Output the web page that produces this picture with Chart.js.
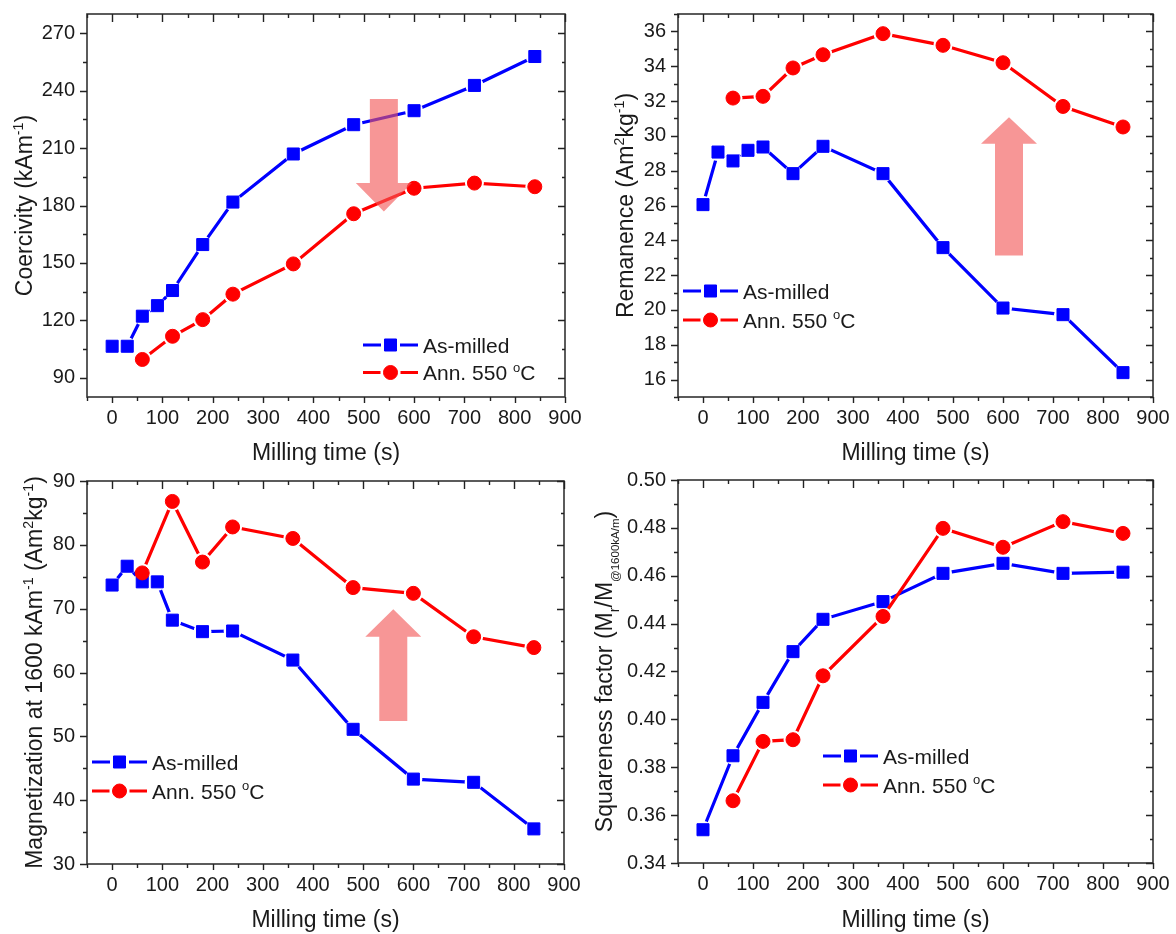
<!DOCTYPE html>
<html>
<head>
<meta charset="utf-8">
<script src="https://cdn.jsdelivr.net/npm/chart.js@4.4.1/dist/chart.umd.min.js"></script>
<style>
  body { margin: 0; background: #fff; }
  #wrap { position: relative; width: 1176px; height: 934px; }
  canvas { position: absolute; }
</style>
</head>
<body>
<div id="wrap">
  <canvas id="c1" width="588" height="467" style="left:0px;top:0px"></canvas>
  <canvas id="c2" width="588" height="467" style="left:588px;top:0px"></canvas>
  <canvas id="c3" width="588" height="467" style="left:0px;top:467px"></canvas>
  <canvas id="c4" width="588" height="467" style="left:588px;top:467px"></canvas>
</div>
<script>
// milling times (s)
const timeAsMilled = [0, 30, 60, 90, 120, 180, 240, 360, 480, 600, 720, 840];
const timeAsMilledSq = [0, 60, 120, 180, 240, 360, 480, 600, 720, 840];
const timeAnnealed = [60, 120, 180, 240, 360, 480, 600, 720, 840];

// coercivity (kA/m)
const coerAsMilled = [106.5, 106.5, 122.2, 127.7, 135.6, 159.6, 181.8, 206.9, 222.2, 229.5, 242.7, 257.8];
const coerAnnealed = [99.6, 111.7, 120.4, 133.7, 149.5, 175.7, 189.0, 191.7, 189.8];
// remanence (Am2/kg)
const remAsMilled = [26.05, 29.07, 28.56, 29.17, 29.36, 27.83, 29.4, 27.83, 23.58, 20.11, 19.73, 16.4];
const remAnnealed = [32.17, 32.27, 33.9, 34.66, 35.87, 35.2, 34.2, 31.69, 30.51];
// magnetization at 1600 kA/m (Am2/kg)
const magAsMilled = [73.7, 76.65, 74.2, 74.2, 68.2, 66.4, 66.5, 61.95, 51.1, 43.3, 42.8, 35.5];
const magAnnealed = [75.6, 86.8, 77.3, 82.8, 81.0, 73.3, 72.4, 65.6, 63.9];
// squareness factor
const sqAsMilled = [0.3539, 0.3848, 0.4071, 0.4283, 0.4418, 0.4492, 0.461, 0.4652, 0.461, 0.4615];
const sqAnnealed = [0.366, 0.3908, 0.3915, 0.4182, 0.443, 0.4798, 0.4719, 0.4826, 0.4777];

// tick labels
const xTicks = [0, 100, 200, 300, 400, 500, 600, 700, 800, 900];
const coerTicks = [90, 120, 150, 180, 210, 240, 270];
const remTicks = [16, 18, 20, 22, 24, 26, 28, 30, 32, 34, 36];
const magTicks = [30, 40, 50, 60, 70, 80, 90];
const sqTicks = [0.34, 0.36, 0.38, 0.40, 0.42, 0.44, 0.46, 0.48, 0.50];

const seriesNames = ['As-milled', 'Ann. 550 oC'];
const xTitle = 'Milling time (s)';

const BLUE = '#0000ff';
const RED = '#ff0000';
const INK = '#1a1a1a';
const FONT = '"Liberation Sans", Arial, "DejaVu Sans", sans-serif';

function zip(xs, ys) {
  return xs.map((x, i) => ({ x: x, y: ys[i] }));
}

function partFont(p, size) {
  let s = size;
  if (p.sup) s = size * 0.62;
  if (p.sub) s = size * (p.small ? 0.5 : 0.62);
  return s.toFixed(1) + 'px ' + FONT;
}

// text with superscripts / subscripts, drawn centred (or left aligned)
function drawRich(ctx, parts, x, y, size, rotate, alignLeft) {
  ctx.save();
  ctx.translate(x, y);
  if (rotate) ctx.rotate(-Math.PI / 2);
  let total = 0;
  parts.forEach(p => {
    ctx.font = partFont(p, size);
    p.w = ctx.measureText(p.t).width;
    total += p.w;
  });
  let cx = alignLeft ? 0 : -total / 2;
  ctx.fillStyle = INK;
  ctx.textAlign = 'left';
  ctx.textBaseline = 'alphabetic';
  parts.forEach(p => {
    ctx.font = partFont(p, size);
    let dy = 0;
    if (p.sup) dy = -size * 0.4;
    if (p.sub) dy = size * 0.28;
    ctx.fillText(p.t, cx, dy + size * 0.36);
    cx += p.w;
  });
  ctx.restore();
}

function legendParts(name) {
  if (name.endsWith('oC')) {
    return [{ t: name.slice(0, -2) }, { t: 'o', sup: true }, { t: 'C' }];
  }
  return [{ t: name }];
}

// Origin-style gap between line and its own symbols
const gapPlugin = {
  id: 'gaps',
  beforeDatasetDraw(chart, args) {
    const ds = chart.data.datasets[args.index];
    if (!ds.gapRadius) return;
    const ctx = chart.ctx;
    ctx.save();
    args.meta.data.forEach(pt => {
      ctx.beginPath();
      ctx.rect(0, 0, chart.width, chart.height);
      ctx.moveTo(pt.x + ds.gapRadius, pt.y);
      ctx.arc(pt.x, pt.y, ds.gapRadius, 0, Math.PI * 2);
      ctx.clip('evenodd');
    });
  },
  afterDatasetDraw(chart, args) {
    const ds = chart.data.datasets[args.index];
    if (ds.gapRadius) chart.ctx.restore();
  }
};

// frame with ticks on all four sides
const framePlugin = {
  id: 'frame',
  afterDraw(chart, args, opts) {
    const ctx = chart.ctx;
    const a = chart.chartArea;
    const xs = chart.scales.x, ys = chart.scales.y;
    ctx.save();
    ctx.strokeStyle = '#333';
    ctx.lineWidth = 1.6;
    ctx.strokeRect(a.left, a.top, a.right - a.left, a.bottom - a.top);
    ctx.lineWidth = 1.4;
    ctx.strokeStyle = '#222';
    ctx.beginPath();
    const yStep = opts.yTicks[1] - opts.yTicks[0];
    for (let v = opts.yTicks[0] - yStep / 2; v <= ys.max + 1e-9; v += yStep / 2) {
      if (v < ys.min - 1e-9) continue;
      const major = opts.yTicks.some(t => Math.abs(t - v) < yStep / 100);
      const py = Math.round(ys.getPixelForValue(v)) + 0.5;
      ctx.moveTo(a.left, py); ctx.lineTo(a.left - (major ? 7 : 4), py);
      ctx.moveTo(a.right, py); ctx.lineTo(a.right - (major ? 7 : 3), py);
    }
    for (let v = -50; v <= 900; v += 50) {
      const major = v % 100 === 0;
      const px = Math.round(xs.getPixelForValue(v)) + 0.5;
      ctx.moveTo(px, a.bottom); ctx.lineTo(px, a.bottom + (major ? 6 : 4));
      ctx.moveTo(px, a.top); ctx.lineTo(px, a.top + (major ? 8 : 4));
    }
    ctx.stroke();
    ctx.restore();

    // y-axis title
    drawRich(ctx, opts.yTitle, opts.yTitleX, (a.top + a.bottom) / 2, 23, true, false);
  }
};

// shaded arrow + in-plot legend
const notesPlugin = {
  id: 'notes',
  afterDatasetsDraw(chart, args, opts) {
    const ctx = chart.ctx;
    const xs = chart.scales.x, ys = chart.scales.y;
    const ar = opts.arrow;
    if (ar) {
      const cx = xs.getPixelForValue(ar.x);
      const tail = ys.getPixelForValue(ar.tail);
      const base = ys.getPixelForValue(ar.base);
      const tip = ys.getPixelForValue(ar.tip);
      ctx.save();
      ctx.fillStyle = 'rgba(242, 86, 86, 0.62)';
      ctx.beginPath();
      ctx.moveTo(cx - 14, tail);
      ctx.lineTo(cx + 14, tail);
      ctx.lineTo(cx + 14, base);
      ctx.lineTo(cx + 28, base);
      ctx.lineTo(cx, tip);
      ctx.lineTo(cx - 28, base);
      ctx.lineTo(cx - 14, base);
      ctx.closePath();
      ctx.fill();
      ctx.restore();
    }

    const lg = opts.legend;
    const keys = chart.data.datasets.filter(ds => ds.showLine === false);
    keys.sort((a, b) => b.order - a.order);
    keys.forEach((ds, i) => {
      const ly = lg.y + i * lg.gap;
      const mx = lg.x + 27.5;
      const g = ds.pointStyle === 'circle' ? 10 : 9.5;
      ctx.save();
      ctx.strokeStyle = ds.borderColor;
      ctx.lineWidth = 3.2;
      ctx.beginPath();
      ctx.moveTo(lg.x, ly); ctx.lineTo(mx - g, ly);
      ctx.moveTo(mx + g, ly); ctx.lineTo(lg.x + 55, ly);
      ctx.stroke();
      ctx.fillStyle = ds.backgroundColor;
      ctx.lineWidth = 1;
      ctx.beginPath();
      if (ds.pointStyle === 'circle') {
        ctx.arc(mx, ly, ds.pointRadius, 0, Math.PI * 2);
      } else {
        const h = ds.pointRadius * Math.SQRT1_2;
        ctx.rect(mx - h, ly - h, 2 * h, 2 * h);
      }
      ctx.fill();
      ctx.stroke();
      ctx.restore();
      drawRich(ctx, legendParts(ds.label), lg.x + 60, ly, 21, false, true);
    });
  }
};

function series(label, points, color, style, radius, gap, order) {
  return [{
    label: label, data: points, borderColor: color, backgroundColor: color,
    borderWidth: 3.2, pointRadius: 0, gapRadius: gap, order: order + 1
  }, {
    label: label, data: points, borderColor: color, backgroundColor: color,
    showLine: false, pointStyle: style, pointRadius: radius, pointBorderWidth: 1,
    pointBackgroundColor: color, pointBorderColor: color, order: order
  }];
}

function makeChart(id, p) {
  return new Chart(document.getElementById(id), {
    type: 'line',
    data: {
      datasets: [
        ...series(seriesNames[0], zip(p.asX, p.asY), BLUE, 'rect', 8.5, 9, 2),
        ...series(seriesNames[1], zip(timeAnnealed, p.annY), RED, 'circle', 7, 9.5, 0)
      ]
    },
    options: {
      responsive: false,
      animation: false,
      devicePixelRatio: 1,
      events: [],
      layout: { padding: { top: p.top, right: p.right, left: 0, bottom: 0 } },
      plugins: {
        legend: { display: false },
        tooltip: { enabled: false },
        frame: { yTicks: p.yTicks, yTitle: p.yTitle, yTitleX: p.yTitleX },
        notes: { arrow: p.arrow, legend: p.legend }
      },
      scales: {
        x: {
          type: 'linear',
          min: -50,
          max: 900,
          afterBuildTicks: s => { s.ticks = xTicks.map(v => ({ value: v })); },
          afterFit: s => { s.height = p.xHeight; s.paddingLeft = 0; s.paddingRight = 0; },
          grid: { display: false, drawTicks: false },
          border: { display: false },
          ticks: { color: INK, font: { family: FONT, size: 20 }, padding: 9, maxRotation: 0, autoSkip: false },
          title: { display: true, text: xTitle, color: INK, font: { family: FONT, size: 23 }, padding: { top: 0, bottom: 0 } }
        },
        y: {
          type: 'linear',
          min: p.yMin,
          max: p.yMax,
          afterBuildTicks: s => { s.ticks = p.yTicks.map(v => ({ value: v })); },
          afterFit: s => { s.width = p.left; s.paddingTop = 0; s.paddingBottom = 0; },
          grid: { display: false, drawTicks: false },
          border: { display: false },
          ticks: {
            color: INK, font: { family: FONT, size: 20 }, padding: 12, autoSkip: false,
            callback: v => p.decimals ? v.toFixed(p.decimals) : String(v)
          }
        }
      }
    },
    plugins: [gapPlugin, framePlugin, notesPlugin]
  });
}

makeChart('c1', {
  asX: timeAsMilled, asY: coerAsMilled, annY: coerAnnealed,
  yMin: 80, yMax: 280, yTicks: coerTicks,
  left: 87, right: 23, top: 14, xHeight: 70,
  yTitle: [{ t: 'Coercivity (kAm' }, { t: '-1', sup: true }, { t: ')' }], yTitleX: 24,
  arrow: { x: 540, tail: 235.6, base: 191.7, tip: 176.9 },
  legend: { x: 363, y: 345, gap: 27.5 }
});

makeChart('c2', {
  asX: timeAsMilled, asY: remAsMilled, annY: remAnnealed,
  yMin: 15, yMax: 37, yTicks: remTicks,
  left: 90, right: 23, top: 14, xHeight: 70,
  yTitle: [{ t: 'Remanence (Am' }, { t: '2', sup: true }, { t: 'kg' }, { t: '-1', sup: true }, { t: ')' }], yTitleX: 37,
  arrow: { x: 612, tail: 23.13, base: 29.55, tip: 31.07 },
  legend: { x: 95, y: 291, gap: 29 }
});

makeChart('c3', {
  asX: timeAsMilled, asY: magAsMilled, annY: magAnnealed,
  yMin: 30, yMax: 90, yTicks: magTicks,
  left: 87, right: 24, top: 14, xHeight: 70,
  yTitle: [{ t: 'Magnetization at 1600 kAm' }, { t: '-1', sup: true }, { t: ' (Am' }, { t: '2', sup: true }, { t: 'kg' }, { t: '-1', sup: true }, { t: ')' }], yTitleX: 34,
  arrow: { x: 560, tail: 52.4, base: 65.6, tip: 69.9 },
  legend: { x: 92, y: 295, gap: 29 }
});

makeChart('c4', {
  asX: timeAsMilledSq, asY: sqAsMilled, annY: sqAnnealed,
  yMin: 0.34, yMax: 0.50, yTicks: sqTicks, decimals: 2,
  left: 90, right: 23, top: 13, xHeight: 71,
  yTitle: [{ t: 'Squareness factor (M' }, { t: 'r', sub: true }, { t: '/M' }, { t: '@1600kA/m', sub: true, small: true }, { t: ')' }], yTitleX: 16,
  arrow: null,
  legend: { x: 235, y: 289, gap: 29 }
});
</script>
</body>
</html>
